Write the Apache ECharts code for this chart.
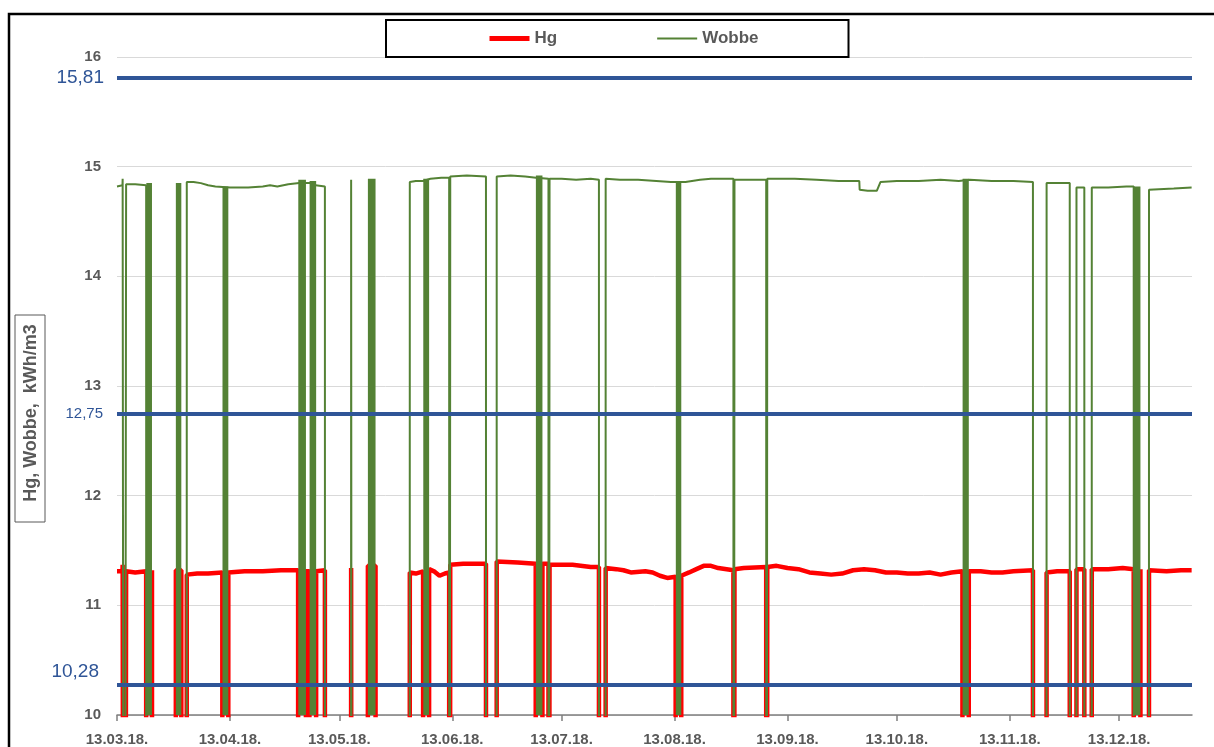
<!DOCTYPE html>
<html><head><meta charset="utf-8">
<script src="https://cdn.jsdelivr.net/npm/echarts@6.0.0/dist/echarts.min.js"></script>
<style>html,body{margin:0;padding:0;background:#fff;}#chart{width:1214px;height:747px;}</style>
</head><body><div id="chart"></div>
<script>
// Day 0 = 13.03.2018; x values below are day offsets from that date
const startDate = [2018, 3, 13];
const endDay = 295; // 02.01.2019
const tickDates = ['2018-03-13','2018-04-13','2018-05-13','2018-06-13','2018-07-13','2018-08-13','2018-09-13','2018-10-13','2018-11-13','2018-12-13'];
const limits = [15.81, 12.75, 10.28];
const limitLabels = ['15,81', '12,75', '10,28'];

// Hg readings [day, kWh/m3]; 0 = signal lost
const hg = [
 [0,11.31],[1.5,11.31],[1.55,11.37],[1.95,11.37],[2.0,0],[2.45,0],[2.5,11.31],[5,11.30],[8.0,11.31],
 [8.05,0],[9.55,0],[9.6,11.32],[9.65,0],
 [16.1,0],[16.15,11.32],[17.65,11.32],[17.7,0],[19.1,0],
 [19.15,11.28],[22,11.29],[25,11.29],[28.9,11.30],[28.95,0],[30.5,0],[30.55,11.30],[35,11.31],[40,11.31],[45,11.32],[49.7,11.32],[49.75,0],[51.8,0],[51.85,11.31],[52.8,11.31],[52.85,0],[54.6,0],[54.65,11.31],[57.05,11.32],
 [57.1,0],[64.2,0],[64.25,11.34],[64.45,11.34],[64.5,0],[68.8,0],[68.85,11.36],[70.95,11.36],[71.0,0],[80.3,0],
 [80.35,11.30],[82,11.29],[84.0,11.31],[84.05,0],[85.6,0],[85.65,11.33],[87,11.31],[88.5,11.27],[90,11.29],[91.15,11.30],[91.2,0],[91.4,0],[91.45,11.37],[95,11.38],[101.25,11.38],
 [101.3,0],[104.15,0],
 [104.2,11.40],[110,11.39],[114.9,11.38],[114.95,0],[116.7,0],[116.75,11.38],[118.4,11.38],[118.45,0],[118.65,0],[118.7,11.37],[125,11.37],[130,11.35],[132.25,11.35],
 [132.3,0],[134.05,0],
 [134.1,11.34],[137,11.33],[139,11.32],[141,11.30],[145,11.31],[147,11.30],[149,11.27],[151,11.25],[153.3,11.26],[153.35,0],[154.8,0],[154.85,11.27],[157,11.30],[159,11.33],[161,11.36],[163,11.36],[165,11.34],[169.15,11.32],[169.2,0],[169.4,0],[169.45,11.33],[172,11.34],[178.15,11.35],[178.2,0],[178.4,0],[178.45,11.35],[181,11.36],[184,11.34],[187,11.33],[190,11.30],[193,11.29],[196,11.28],[199,11.29],[202,11.32],[205,11.33],[208,11.32],[211,11.30],[214,11.30],[217,11.29],[220,11.29],[223,11.30],[226,11.28],[229,11.30],[232.0,11.31],[232.05,0],[233.7,0],[233.75,11.31],[237,11.31],[240,11.30],[243,11.30],[246,11.31],[251.35,11.32],
 [251.4,0],[255.05,0],
 [255.1,11.30],[258,11.31],[261.45,11.31],[261.5,0],[263.25,0],
 [263.3,11.33],[265.45,11.33],[265.5,0],[267.45,0],
 [267.5,11.33],[272,11.33],[276,11.34],[279.0,11.33],[279.05,0],[280.8,0],[280.85,11.33],[280.9,0],[283.15,0],
 [283.2,11.32],[288,11.31],[292,11.32],[294.9,11.32]
];

// Wobbe readings [day, kWh/m3]; 0 = signal lost
const wobbe = [
 [0,14.82],[1.5,14.83],[1.55,14.89],[1.95,14.89],[2.0,0],[2.45,0],[2.5,14.84],[5,14.84],[8.0,14.83],
 [8.05,0],[19.1,0],
 [19.15,14.86],[21,14.86],[23,14.85],[25,14.83],[27,14.82],[31,14.81],[36,14.81],[40,14.82],[42,14.83],[44,14.82],[47,14.84],[50,14.85],[53,14.85],[54.5,14.83],[57.05,14.82],
 [57.1,0],[64.2,0],[64.25,14.88],[64.45,14.88],[64.5,0],[80.3,0],
 [80.35,14.86],[82,14.87],[84,14.87],[86,14.89],[89,14.90],[91.15,14.90],[91.2,0],[91.4,0],[91.45,14.91],[96,14.92],[101.25,14.91],
 [101.3,0],[104.15,0],
 [104.2,14.91],[108,14.92],[112,14.91],[115,14.90],[118.4,14.89],[118.45,0],[118.65,0],[118.7,14.89],[122,14.89],[126,14.88],[130,14.89],[132.25,14.88],
 [132.3,0],[134.05,0],
 [134.1,14.89],[138,14.88],[143,14.88],[148,14.87],[152,14.86],[156,14.86],[160,14.88],[163,14.89],[169.15,14.89],[169.2,0],[169.4,0],[169.45,14.88],[172,14.88],[178.15,14.88],[178.2,0],[178.4,0],[178.45,14.89],[186,14.89],[192,14.88],[198,14.87],[203.7,14.87],[203.8,14.79],[206,14.78],[208.5,14.78],[209.5,14.86],[214,14.87],[220,14.87],[226,14.88],[231,14.87],[234,14.88],[240,14.87],[246,14.87],[251.35,14.86],
 [251.4,0],[255.05,0],
 [255.1,14.85],[261.45,14.85],[261.5,0],[263.25,0],
 [263.3,14.81],[265.45,14.81],[265.5,0],[267.45,0],
 [267.5,14.81],[272,14.81],[277,14.82],[279.0,14.82],[279.05,0],[283.15,0],
 [283.2,14.79],[290,14.80],[294.9,14.81]
];

// Periods of rapid Wobbe on/off switching [startDay, endDay, top value]
const flapBands = [
 [8.05,9.6,14.85],[16.15,17.65,14.85],[28.95,30.55,14.82],[49.75,51.85,14.88],[52.85,54.65,14.87],
 [68.85,70.95,14.89],[84.05,85.65,14.89],[114.95,116.75,14.92],[153.35,154.85,14.87],[232.05,233.75,14.89],[279.05,280.85,14.82]
];

const DAY = 86400000;
const T0 = Date.UTC(startDate[0], startDate[1]-1, startDate[2]);
const tickValues = tickDates.map(s => { const p = s.split('-').map(Number); return Math.round((Date.UTC(p[0], p[1]-1, p[2]) - T0) / DAY); });
const pad = n => (n < 10 ? '0' : '') + n;
const fmt = v => { const d = new Date(T0 + v * DAY); return pad(d.getUTCDate()) + '.' + pad(d.getUTCMonth()+1) + '.' + String(d.getUTCFullYear()).slice(2) + '.'; };

const GREEN = '#548235', RED = '#FF0000', BLUE = '#2F5597', GREY = '#595959';
const FONT = 'Liberation Sans';

const chart = echarts.init(document.getElementById('chart'));
chart.setOption({
  animation: false,
  textStyle: { fontFamily: FONT },
  grid: { left: 117, right: 22, top: 57, bottom: 32, containLabel: false },
  legend: {
    left: 386, top: 20,
    padding: [10, 90, 10, 101],
    borderColor: '#000', borderWidth: 2,
    itemWidth: 40, itemHeight: 14, itemGap: 99,
    textStyle: { fontSize: 17, fontWeight: 'bold', color: GREY, fontFamily: FONT },
    data: [
      { name: 'Hg', lineStyle: { width: 5 }, itemStyle: { opacity: 0 } },
      { name: 'Wobbe', lineStyle: { width: 2 }, itemStyle: { opacity: 0 } }
    ]
  },
  xAxis: {
    type: 'value', min: 0, max: endDay,
    axisLine: { lineStyle: { color: '#7F7F7F', width: 1.5 } },
    axisTick: { show: true, customValues: tickValues, length: 6, lineStyle: { color: '#7F7F7F', width: 1.5 } },
    axisLabel: { customValues: tickValues, formatter: fmt, fontSize: 15, fontWeight: 'bold', color: GREY, margin: 17, fontFamily: FONT },
    splitLine: { show: false }
  },
  yAxis: {
    type: 'value', min: 10, max: 16, interval: 1,
    axisLine: { show: false }, axisTick: { show: false },
    axisLabel: { fontSize: 15, fontWeight: 'bold', color: GREY, margin: 16, fontFamily: FONT },
    splitLine: { lineStyle: { color: '#D9D9D9', width: 1 } }
  },
  series: [
    { name: 'Hg', type: 'line', symbol: 'none', z: 2, color: RED, lineStyle: { width: 4.5, color: RED }, data: hg },
    { name: 'Wobbe', type: 'line', symbol: 'none', z: 3, color: GREEN, lineStyle: { width: 2, color: GREEN }, data: wobbe },
    { name: 'Wobbe switching', type: 'custom', z: 4, color: GREEN,
      encode: { x: [0, 1], y: 2 },
      data: flapBands,
      renderItem: (params, api) => {
        const a = api.coord([api.value(0), api.value(2)]);
        const b = api.coord([api.value(1), 10]);
        return { type: 'rect', shape: { x: a[0], y: a[1], width: Math.max(b[0] - a[0], 1), height: b[1] - a[1] }, style: { fill: GREEN } };
      }
    },
    { name: 'limits', type: 'line', data: [], z: 6,
      markLine: {
        silent: true, symbol: ['none', 'none'], animation: false,
        lineStyle: { color: BLUE, width: 4, type: 'solid' },
        data: limits.map((v, i) => ({
          yAxis: v,
          label: {
            show: true, position: 'start', formatter: limitLabels[i], color: BLUE, fontFamily: FONT,
            fontSize: i === 1 ? 15 : 19,
            distance: i === 1 ? 14 : (i === 2 ? 18 : 13),
            offset: i === 2 ? [0, -13] : [0, 0]
          }
        }))
      }
    }
  ],
  graphic: [
    { type: 'rect', shape: { x: 9, y: 14, width: 1400, height: 1000 }, style: { fill: 'none', stroke: '#000', lineWidth: 2.5 }, silent: true },
    { type: 'rect', shape: { x: 15, y: 315, width: 30, height: 207 }, style: { fill: 'none', stroke: '#595959', lineWidth: 1 }, silent: true },
    { type: 'text', x: 31, y: 413, rotation: Math.PI / 2,
      style: { text: 'Hg, Wobbe,  kWh/m3', fill: GREY, font: 'bold 18px "Liberation Sans"', align: 'center', verticalAlign: 'middle' }, silent: true }
  ]
});
</script>
</body></html>
